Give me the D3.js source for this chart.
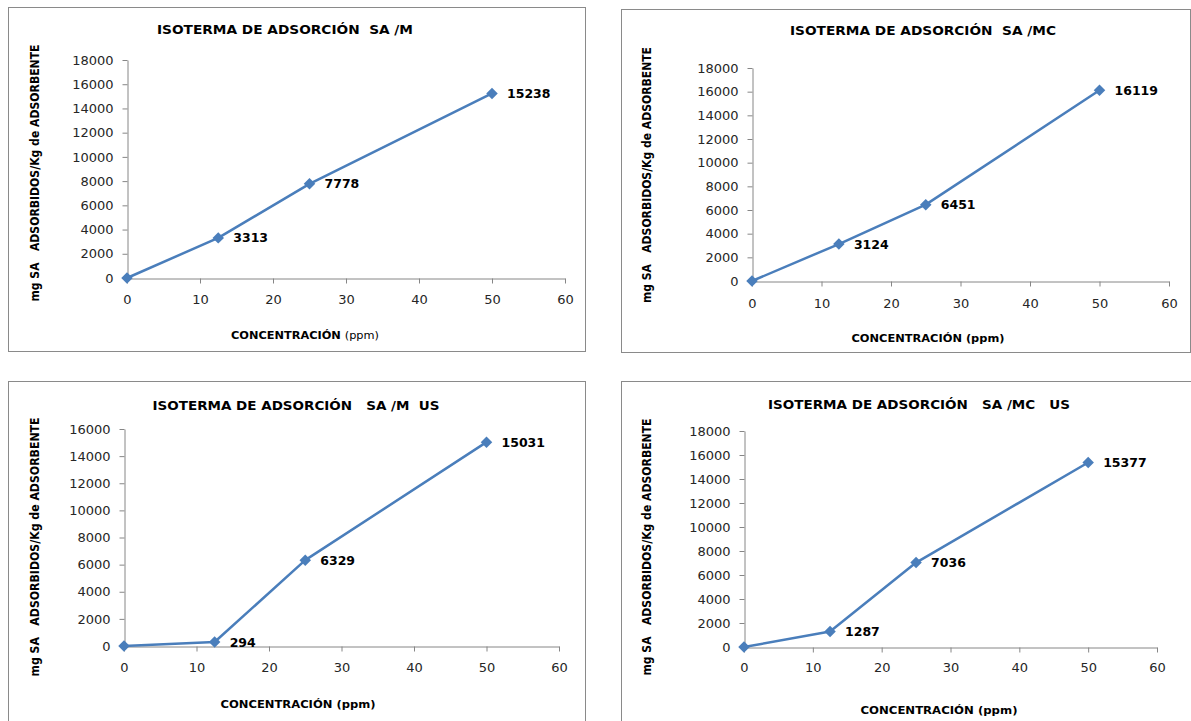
<!DOCTYPE html>
<html>
<head>
<meta charset="utf-8">
<script src="https://cdn.jsdelivr.net/npm/d3@7"></script>
<style>
  html, body { margin: 0; padding: 0; background: #ffffff; }
  svg { display: block; }
</style>
</head>
<body>
<svg id="chart" width="1191" height="721"></svg>
<script>
// ---- Data ----
const concentration = [0, 12.5, 25, 50];
const seriesM    = [0, 3313, 7778, 15238];
const seriesMC   = [0, 3124, 6451, 16119];
const seriesMUS  = [0, 294, 6329, 15031];
const seriesMCUS = [0, 1287, 7036, 15377];

const titles = [
  "ISOTERMA DE ADSORCIÓN  SA /M",
  "ISOTERMA DE ADSORCIÓN  SA /MC",
  "ISOTERMA DE ADSORCIÓN   SA /M  US",
  "ISOTERMA DE ADSORCIÓN   SA /MC   US"
];
const xTicks = [0, 10, 20, 30, 40, 50, 60];
const yTicks18 = [0, 2000, 4000, 6000, 8000, 10000, 12000, 14000, 16000, 18000];
const yTicks16 = [0, 2000, 4000, 6000, 8000, 10000, 12000, 14000, 16000];
const yTitle = "mg SA   ADSORBIDOS/Kg de ADSORBENTE";
const xTitleBold = "CONCENTRACIÓN";
const xTitleUnit = "(ppm)";

// ---- Layout (positions only) ----
const panels = [
  { values: seriesM, title: titles[0], yTicks: yTicks18, yMax: 18000,
    box: [8, 7, 585, 351], plot: [127, 565, 278, 60],
    titleC: [285, 34, 256], xTitle: [305, 339, 148], unitBold: false,
    yTitle: [35, 173, 257], yLabR: 113, xLabY: 303 },
  { values: seriesMC, title: titles[1], yTicks: yTicks18, yMax: 18000,
    box: [621, 9, 1190, 352], plot: [752, 1169, 281, 68],
    titleC: [923, 35, 266], xTitle: [928, 342, 153], unitBold: true,
    yTitle: [647, 175, 256], yLabR: 738, xLabY: 307 },
  { values: seriesMUS, title: titles[2], yTicks: yTicks16, yMax: 16000,
    box: [8, 381, 585, 730], plot: [124, 559, 646, 429],
    titleC: [296, 410, 287], xTitle: [298, 708, 155], unitBold: true,
    yTitle: [35, 547, 259], yLabR: 110, xLabY: 671 },
  { values: seriesMCUS, title: titles[3], yTicks: yTicks18, yMax: 18000,
    box: [621, 381, 1195, 730], plot: [744, 1157, 647, 431],
    titleC: [919, 409, 302], xTitle: [939, 714, 157], unitBold: true,
    yTitle: [647, 547, 257], yLabR: 730, xLabY: 671 }
];

const svg = d3.select("#chart");
const lineColor = "#4a7ebb";
const axisColor = "#868686";

panels.forEach(p => {
  const g = svg.append("g");
  const [bx0, by0, bx1, by1] = p.box;
  g.append("rect")
    .attr("x", bx0 + 0.5).attr("y", by0 + 0.5)
    .attr("width", bx1 - bx0).attr("height", by1 - by0)
    .attr("fill", "#fff").attr("stroke", "#8a8a8a").attr("stroke-width", 1);

  const [px0, px1, py0, py1] = p.plot;
  const x = d3.scaleLinear().domain([0, 60]).range([px0, px1]);
  const y = d3.scaleLinear().domain([0, p.yMax]).range([py0, py1]);

  // Y axis
  const yAxis = g.append("g").attr("transform", `translate(${px0 + 0.5},0)`)
    .call(d3.axisLeft(y).tickValues(p.yTicks).tickSize(5).tickSizeOuter(0).tickFormat(d3.format("d")));
  yAxis.select(".domain").attr("stroke", axisColor);
  yAxis.selectAll(".tick line").attr("stroke", axisColor);
  yAxis.selectAll(".tick text")
    .attr("x", p.yLabR - px0)
    .attr("font-family", "DejaVu Sans, sans-serif")
    .attr("font-size", 13)
    .attr("fill", "#262626");

  // X axis
  const xAxis = g.append("g").attr("transform", `translate(0,${py0 + 0.5})`)
    .call(d3.axisBottom(x).tickValues(xTicks).tickSize(5).tickSizeOuter(0).tickFormat(d3.format("d")));
  xAxis.select(".domain").attr("stroke", axisColor);
  xAxis.selectAll(".tick line").attr("stroke", axisColor);
  xAxis.selectAll(".tick text")
    .attr("y", p.xLabY - py0)
    .attr("dy", 0)
    .attr("font-family", "DejaVu Sans, sans-serif")
    .attr("font-size", 13)
    .attr("fill", "#262626");

  // Title
  g.append("text")
    .attr("x", p.titleC[0]).attr("y", p.titleC[1])
    .attr("text-anchor", "middle")
    .attr("font-family", "DejaVu Sans, sans-serif")
    .attr("font-weight", "bold").attr("font-size", 13)
    .attr("textLength", p.titleC[2]).attr("lengthAdjust", "spacingAndGlyphs")
    .attr("fill", "#000")
    .style("white-space", "pre")
    .text(p.title);

  // X title
  const xt = g.append("text")
    .attr("x", p.xTitle[0]).attr("y", p.xTitle[1])
    .attr("text-anchor", "middle")
    .attr("font-family", "DejaVu Sans, sans-serif")
    .attr("font-size", 11)
    .attr("textLength", p.xTitle[2]).attr("lengthAdjust", "spacingAndGlyphs")
    .attr("fill", "#000")
    .style("white-space", "pre");
  xt.append("tspan").attr("font-weight", "bold").text(xTitleBold + " ");
  xt.append("tspan").attr("font-weight", p.unitBold ? "bold" : "normal").text(xTitleUnit);

  // Y title
  g.append("text")
    .attr("transform", `translate(${p.yTitle[0]},${p.yTitle[1]}) rotate(-90)`)
    .attr("text-anchor", "middle")
    .attr("dy", "0.35em")
    .attr("font-family", "DejaVu Sans, sans-serif")
    .attr("font-weight", "bold").attr("font-size", 11.5)
    .attr("textLength", p.yTitle[2]).attr("lengthAdjust", "spacingAndGlyphs")
    .attr("fill", "#000")
    .style("white-space", "pre")
    .text(yTitle);

  // Series
  const pts = concentration.map((c, i) => ({ c, v: p.values[i] }));
  const line = d3.line().x(d => x(d.c)).y(d => y(d.v));
  g.append("path").datum(pts)
    .attr("d", line)
    .attr("fill", "none").attr("stroke", lineColor)
    .attr("stroke-width", 2.5).attr("stroke-linejoin", "round");

  const sym = d3.symbol().type(d3.symbolSquare).size(66);
  g.selectAll(".mk").data(pts).enter().append("path")
    .attr("d", sym)
    .attr("transform", d => `translate(${x(d.c)},${y(d.v)}) rotate(45)`)
    .attr("fill", lineColor);

  g.selectAll(".lbl").data(pts.filter(d => d.v > 0)).enter().append("text")
    .attr("x", d => x(d.c) + 15).attr("y", d => y(d.v))
    .attr("dy", "0.36em")
    .attr("font-family", "DejaVu Sans, sans-serif")
    .attr("font-weight", "bold").attr("font-size", 12.5)
    .attr("fill", "#000")
    .text(d => d.v);
});
</script>
</body>
</html>
